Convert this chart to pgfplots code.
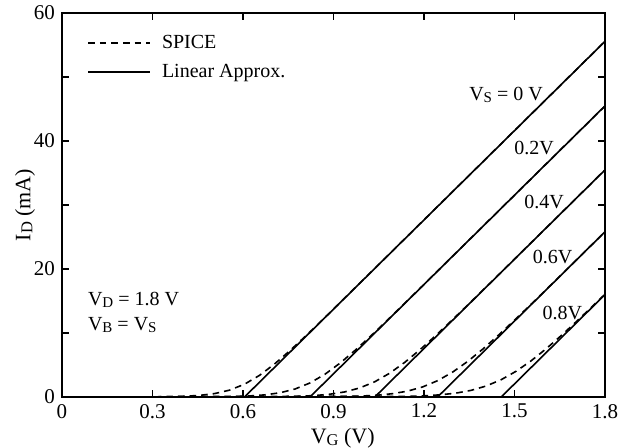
\documentclass[border=0pt]{standalone}
\usepackage{fontspec}
\setmainfont{Liberation Serif}
\usepackage{pgfplots}
\pgfplotsset{compat=1.18}
% small capital subscript as in the figure (V_D, I_D ...)
\newcommand{\sub}[1]{\raisebox{-0.2ex}{\fontsize{0.75em}{1em}\selectfont #1}}
\newcommand{\lbl}{\fontsize{10pt}{12.5pt}\selectfont}

\begin{document}
\begin{tikzpicture}
\begin{axis}[
    width=271.5pt, height=192pt, scale only axis,
    xmin=0, xmax=1.8, ymin=0, ymax=60,
    xtick={0,0.3,0.6,0.9,1.2,1.5,1.8},
    xticklabels={0,0.3,0.6,0.9,1.2,1.5,1.8},
    ytick={0,20,40,60}, yticklabels={0,20,40,60},
    minor ytick={10,30,50},
    tick align=inside,
    major tick length=3.5pt, minor tick length=3.5pt,
    every tick/.style={black, line width=0.6pt},
    axis line style={line width=0.9pt},
    tick label style={font=\fontsize{10.5pt}{12pt}\selectfont},
    label style={font=\fontsize{11pt}{13pt}\selectfont},
    xlabel={V\sub{G} (V)},
    ylabel={I\sub{D} (mA)},
    x label style={at={(axis description cs:0.517,-0.1068)}, anchor=center},
    y label style={at={(axis description cs:-0.0681,0.5)}, anchor=center},
    legend cell align=left,
    legend style={at={(0.035,0.965)}, anchor=north west, draw=none, fill=none,
        font=\lbl, row sep=2.5pt,
        /tikz/every odd column/.append style={column sep=3.5pt}},
    legend image code/.code={\draw[#1] (0pt,0pt) -- (31pt,0pt);},
    spice/.style={black, line width=0.8pt, dash pattern=on 3.3pt off 2.5pt},
    lin/.style={black, line width=0.8pt},
]
% ---- V_S = 0 V ----
\addplot[spice] coordinates {(0,0) (0.305,0.023) (0.355,0.051) (0.405,0.112) (0.455,0.246) (0.505,0.524) (0.555,1.064) (0.605,1.998) (0.655,3.388) (0.705,5.174) (0.755,7.22) (0.805,9.41) (0.855,11.67) (0.905,13.97) (1.8,55.57)};
\addlegendentry{SPICE}
\addplot[lin] coordinates {(0,0) (0.605,0) (1.8,55.57)};
\addlegendentry{Linear Approx.}
% ---- V_S = 0.2 V ----
\addplot[spice, forget plot] coordinates {(0,0) (0.522,0.038) (0.572,0.079) (0.622,0.163) (0.672,0.330) (0.722,0.654) (0.772,1.239) (0.822,2.192) (0.872,3.563) (0.922,5.305) (0.972,7.306) (1.022,9.46) (1.072,11.70) (1.122,13.99) (1.172,16.29) (1.8,45.48)};
\addplot[lin, forget plot] coordinates {(0,0) (0.822,0) (1.8,45.48)};
% ---- V_S = 0.4 V ----
\addplot[spice, forget plot] coordinates {(0,0) (0.737,0.059) (0.787,0.115) (0.837,0.223) (0.887,0.426) (0.937,0.792) (0.987,1.415) (1.037,2.385) (1.087,3.741) (1.137,5.442) (1.187,7.401) (1.237,9.52) (1.287,11.74) (1.337,14.01) (1.387,16.31) (1.437,18.62) (1.8,35.48)};
\addplot[lin, forget plot] coordinates {(0,0) (1.037,0) (1.8,35.48)};
% ---- V_S = 0.6 V ----
\addplot[spice, forget plot] coordinates {(0,0) (0.945,0.082) (0.995,0.152) (1.045,0.281) (1.095,0.513) (1.145,0.913) (1.195,1.565) (1.245,2.546) (1.295,3.890) (1.345,5.564) (1.395,7.489) (1.445,9.58) (1.495,11.78) (1.545,14.03) (1.595,16.32) (1.645,18.62) (1.8,25.81)};
\addplot[lin, forget plot] coordinates {(0,0) (1.245,0) (1.8,25.81)};
% ---- V_S = 0.8 V ----
\addplot[spice, forget plot] coordinates {(0,0) (1.156,0.108) (1.206,0.194) (1.256,0.346) (1.306,0.605) (1.356,1.037) (1.406,1.716) (1.456,2.707) (1.506,4.040) (1.556,5.686) (1.606,7.581) (1.656,9.646) (1.706,11.82) (1.756,14.06) (1.8,16.06)};
\addplot[lin, forget plot] coordinates {(0,0) (1.456,0) (1.8,16.0)};

% curve labels
\node[font=\lbl] at (axis cs:1.472,47.2) {V\sub{S} = 0 V};
\node[font=\lbl] at (axis cs:1.565,38.9) {0.2V};
\node[font=\lbl] at (axis cs:1.598,30.5) {0.4V};
\node[font=\lbl] at (axis cs:1.626,21.9) {0.6V};
\node[font=\lbl] at (axis cs:1.659,13.1) {0.8V};
% bias conditions
\node[font=\lbl, anchor=west, align=left, inner sep=0pt] at (axis cs:0.085,13.2)
    {V\sub{D} = 1.8 V\\V\sub{B} = V\sub{S}};
\end{axis}
% page frame as in the original figure
\pgfresetboundingbox
\path[use as bounding box] ([xshift=-31pt,yshift=-25.5pt]current axis.south west)
    rectangle ([xshift=11pt,yshift=6.5pt]current axis.north east);
\end{tikzpicture}
\end{document}
